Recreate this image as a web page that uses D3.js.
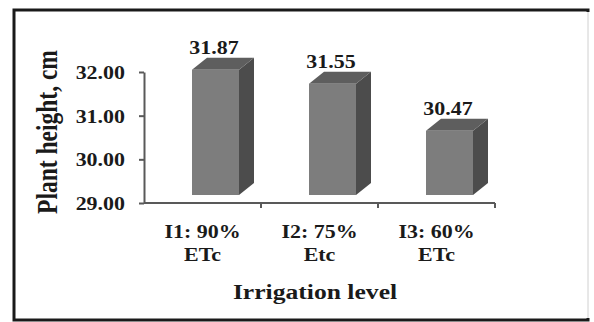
<!DOCTYPE html>
<html lang="en">
<head>
	<meta charset="UTF-8">
	<title>Plant height by irrigation level</title>
	<script src="https://cdnjs.cloudflare.com/ajax/libs/d3/7.8.5/d3.min.js"></script>
	<style>
		body {
			margin: 0;
			background-color: #ffffff;
		}
		svg text {
			font-family: "Liberation Serif", "Times New Roman", serif;
			font-weight: bold;
			fill: #1a1a1a;
		}
		.axis path,
		.axis line {
			fill: none;
			stroke: #595959;
			stroke-width: 2;
		}
	</style>
</head>
<body>
	<div id="chart"></div>

	<script>
		const categories = ["I1", "I2", "I3"];
		const labelTop = ["I1: 90%", "I2: 75%", "I3: 60%"];
		const labelBottom = ["ETc", "Etc", "ETc"];
		const heights = [31.87, 31.55, 30.47];
		const yTicks = [29, 30, 31, 32];

		const width = 594, height = 322;
		const stretch = 1.22; // the picture is a bit wider than tall

		const svg = d3.select("#chart")
			.append("svg")
			.attr("width", width)
			.attr("height", height);

		// frame
		svg.append("rect")
			.attr("x", 14).attr("y", 10)
			.attr("width", 574).attr("height", 310)
			.attr("fill", "none")
			.attr("stroke", "#1a1a1a")
			.attr("stroke-width", 3);
		svg.append("line")
			.attr("x1", 588).attr("x2", 588)
			.attr("y1", 12).attr("y2", 318)
			.attr("stroke", "#ffffff")
			.attr("stroke-width", 4);
		svg.append("line")
			.attr("x1", 588).attr("x2", 588)
			.attr("y1", 12).attr("y2", 318)
			.attr("stroke", "#d0d0d0")
			.attr("stroke-width", 1);

		const x = d3.scaleBand()
			.domain(categories)
			.range([144, 495])
			.padding(0);

		const y = d3.scaleLinear()
			.domain([29, 32])
			.range([203, 72]);

		// y axis
		const yAxis = svg.append("g")
			.attr("class", "axis")
			.attr("transform", "translate(144,0)")
			.call(d3.axisLeft(y)
				.tickValues(yTicks)
				.tickFormat(d3.format(".2f"))
				.tickSize(5)
				.tickSizeOuter(0));

		yAxis.selectAll("text")
			.attr("x", null)
			.attr("dy", "0.36em")
			.attr("transform", `translate(-19,0) scale(${stretch},1)`)
			.style("font-size", "18px")
			.style("text-anchor", "end");

		// x axis: line with ticks between the groups
		const xAxis = svg.append("g")
			.attr("class", "axis")
			.attr("transform", "translate(0,203)");

		xAxis.append("path")
			.attr("d", `M${x.range()[0]},0H${x.range()[1]}`);

		xAxis.selectAll(".sep")
			.data(categories)
			.enter().append("line")
			.attr("class", "sep")
			.attr("x1", d => x(d) + x.bandwidth())
			.attr("x2", d => x(d) + x.bandwidth())
			.attr("y1", 0)
			.attr("y2", 5);

		const xLabels = xAxis.selectAll(".xlab")
			.data(categories)
			.enter().append("g")
			.attr("class", "xlab")
			.attr("transform", d => `translate(${x(d) + x.bandwidth() / 2},0)`);

		xLabels.append("text")
			.attr("transform", `translate(0,35) scale(${stretch},1)`)
			.style("font-size", "18px")
			.style("text-anchor", "middle")
			.text((d, i) => labelTop[i]);

		xLabels.append("text")
			.attr("transform", `translate(0,58) scale(${stretch},1)`)
			.style("font-size", "18px")
			.style("text-anchor", "middle")
			.text((d, i) => labelBottom[i]);

		// 3D columns
		const depthX = 15, depthY = -12, shiftX = 13, shiftY = -8, faceW = 47;
		const data = categories.map((c, i) => ({ cat: c, value: heights[i] }));

		const bars = svg.selectAll(".bar")
			.data(data)
			.enter().append("g")
			.attr("class", "bar");

		const faceLeft = d => x(d.cat) + x.bandwidth() / 2 + shiftX - faceW / 2;
		const faceTop = d => y(d.value) + shiftY;
		const faceBottom = () => y(29) + shiftY;

		bars.append("path")
			.attr("fill", "#4c4c4c")
			.attr("d", d => {
				const r = faceLeft(d) + faceW;
				return `M${r},${faceTop(d)}L${r + depthX},${faceTop(d) + depthY}` +
					`L${r + depthX},${faceBottom() + depthY}L${r},${faceBottom()}Z`;
			});

		bars.append("path")
			.attr("fill", "#5e5e5e")
			.attr("d", d => {
				const l = faceLeft(d), t = faceTop(d);
				return `M${l},${t}L${l + depthX},${t + depthY}` +
					`L${l + faceW + depthX},${t + depthY}L${l + faceW},${t}Z`;
			});

		bars.append("rect")
			.attr("fill", "#7d7d7d")
			.attr("x", faceLeft)
			.attr("y", faceTop)
			.attr("width", faceW)
			.attr("height", d => faceBottom() - faceTop(d));

		bars.append("text")
			.attr("transform", d => `translate(${faceLeft(d) + faceW / 2 - 1.5},${faceTop(d) + depthY - 4}) scale(${stretch},1)`)
			.style("font-size", "18px")
			.style("text-anchor", "middle")
			.text(d => d.value.toFixed(2));

		// axis titles
		svg.append("text")
			.attr("transform", `translate(315,299) scale(${stretch},1)`)
			.style("font-size", "21px")
			.style("text-anchor", "middle")
			.text("Irrigation level");

		svg.append("text")
			.attr("transform", `translate(57,132) rotate(-90) scale(1,${stretch})`)
			.style("font-size", "23.5px")
			.style("text-anchor", "middle")
			.text("Plant height, cm");
	</script>
</body>
</html>
